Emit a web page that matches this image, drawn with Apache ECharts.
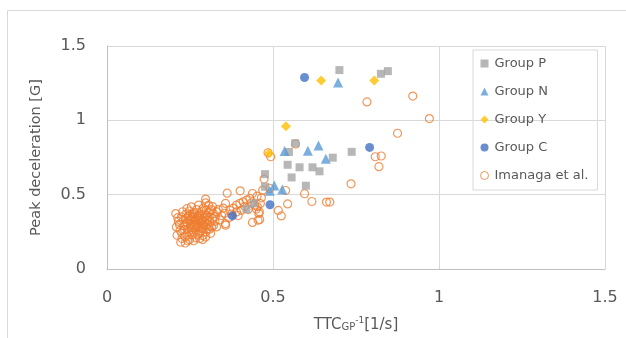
<!DOCTYPE html>
<html>
<head>
<meta charset="utf-8">
<script src="https://cdn.jsdelivr.net/npm/echarts@6/dist/echarts.min.js"></script>
<style>
  html, body { margin: 0; padding: 0; background: #fff; }
  #chart { width: 626px; height: 338px; }
</style>
</head>
<body>
<div id="chart"></div>
<script>
// values: [TTC^-1, peak deceleration]
const groupP = [
  [0.700, 1.338], [0.825, 1.313], [0.846, 1.331], [0.567, 0.846], [0.548, 0.787],
  [0.680, 0.749], [0.737, 0.788], [0.544, 0.701], [0.580, 0.684], [0.619, 0.684],
  [0.640, 0.657], [0.556, 0.616], [0.599, 0.560], [0.476, 0.638], [0.476, 0.553],
  [0.420, 0.403], [0.442, 0.441]
];
const groupN = [
  [0.696, 1.254], [0.535, 0.794], [0.605, 0.796], [0.637, 0.830], [0.659, 0.742],
  [0.504, 0.562], [0.528, 0.535], [0.490, 0.526]
];
const groupY = [
  [0.645, 1.268], [0.539, 0.960], [0.488, 0.778], [0.805, 1.268]
];
const groupC = [
  [0.595, 1.288], [0.491, 0.432], [0.378, 0.357], [0.791, 0.818]
];
const imanaga = [
  // outer points
  [0.783, 1.124], [0.921, 1.163], [0.971, 1.012], [0.875, 0.913], [0.808, 0.755],
  [0.826, 0.760], [0.819, 0.688], [0.735, 0.573], [0.671, 0.450], [0.568, 0.841],
  [0.485, 0.782], [0.493, 0.755], [0.473, 0.605], [0.490, 0.542], [0.469, 0.531],
  [0.538, 0.528], [0.595, 0.506], [0.617, 0.454], [0.661, 0.450], [0.544, 0.438],
  [0.516, 0.394], [0.525, 0.357],
  // tail of the cluster
  [0.362, 0.510], [0.401, 0.526], [0.438, 0.508], [0.465, 0.479], [0.452, 0.490],
  [0.420, 0.463], [0.410, 0.452], [0.400, 0.441], [0.390, 0.430], [0.430, 0.475],
  [0.445, 0.430], [0.453, 0.418], [0.462, 0.440], [0.450, 0.403], [0.459, 0.384],
  [0.457, 0.374], [0.460, 0.333], [0.438, 0.313], [0.455, 0.328], [0.390, 0.384],
  [0.380, 0.410], [0.370, 0.395], [0.357, 0.441], [0.297, 0.470], [0.297, 0.445],
  [0.331, 0.384], [0.326, 0.351], [0.357, 0.295], [0.321, 0.293], [0.309, 0.268],
  [0.345, 0.360], [0.355, 0.375], [0.367, 0.345], [0.357, 0.306], [0.315, 0.283],
  [0.330, 0.283], [0.340, 0.330], [0.335, 0.400], [0.350, 0.410], [0.415, 0.420],
  [0.425, 0.400], [0.405, 0.395], [0.435, 0.445], [0.395, 0.360], [0.375, 0.370],
  [0.318, 0.420], [0.310, 0.390], [0.300, 0.360],
  // dense core
  [0.207, 0.373], [0.209, 0.283], [0.211, 0.227], [0.222, 0.180], [0.236, 0.175],
  [0.249, 0.198], [0.288, 0.198], [0.224, 0.351], [0.241, 0.407], [0.254, 0.418],
  [0.276, 0.430], [0.299, 0.396], [0.215, 0.320], [0.218, 0.300], [0.220, 0.260],
  [0.225, 0.240], [0.230, 0.330], [0.232, 0.290], [0.235, 0.215], [0.238, 0.370],
  [0.240, 0.340], [0.242, 0.310], [0.244, 0.270], [0.246, 0.250], [0.248, 0.390],
  [0.250, 0.360], [0.252, 0.330], [0.254, 0.300], [0.256, 0.230], [0.258, 0.280],
  [0.260, 0.345], [0.262, 0.380], [0.264, 0.315], [0.266, 0.260], [0.268, 0.210],
  [0.270, 0.400], [0.272, 0.355], [0.274, 0.325], [0.276, 0.290], [0.278, 0.240],
  [0.280, 0.370], [0.282, 0.340], [0.284, 0.305], [0.286, 0.270], [0.288, 0.225],
  [0.290, 0.410], [0.292, 0.350], [0.294, 0.320], [0.296, 0.290], [0.298, 0.250],
  [0.300, 0.330], [0.302, 0.300], [0.305, 0.380], [0.308, 0.350], [0.310, 0.320],
  [0.312, 0.240], [0.315, 0.400], [0.318, 0.340], [0.228, 0.385], [0.233, 0.265],
  [0.237, 0.300], [0.245, 0.355], [0.251, 0.285], [0.257, 0.370], [0.259, 0.250],
  [0.263, 0.295], [0.267, 0.335], [0.271, 0.280], [0.273, 0.230], [0.277, 0.360],
  [0.281, 0.315], [0.285, 0.390], [0.289, 0.280], [0.293, 0.370], [0.297, 0.215],
  [0.247, 0.325], [0.255, 0.350], [0.265, 0.370], [0.275, 0.340], [0.283, 0.255],
  [0.213, 0.345], [0.226, 0.205], [0.243, 0.190], [0.261, 0.190], [0.279, 0.205],
  [0.269, 0.300], [0.287, 0.330], [0.240, 0.230], [0.253, 0.265], [0.291, 0.300],
  [0.303, 0.270], [0.306, 0.430], [0.320, 0.375], [0.325, 0.320]
];
const seriesNames = ["Group P", "Group N", "Group Y", "Group C", "Imanaga et al."];

const FONT = "'DejaVu Sans', Verdana, sans-serif";
const TEXT = "#595959";
const ORANGE = "#ED7D31";

const chart = echarts.init(document.getElementById("chart"), null, { renderer: "canvas" });

const option = {
  animation: false,
  textStyle: { fontFamily: FONT },
  grid: { left: 107, right: 21, top: 46, bottom: 69, containLabel: false },
  // chart-area frame (only the left and top edges show in the picture)
  graphic: [
    { type: "line", shape: { x1: 7.5, y1: 10.5, x2: 626, y2: 10.5 }, style: { stroke: "#d9d9d9", lineWidth: 1 } },
    { type: "line", shape: { x1: 7.5, y1: 10.5, x2: 7.5, y2: 338 }, style: { stroke: "#d9d9d9", lineWidth: 1 } }
  ],
  legend: {
    data: seriesNames.map((n) =>
      n === "Imanaga et al."
        ? { name: n, icon: "circle", itemStyle: { color: "rgba(255,255,255,0)", borderColor: ORANGE, borderWidth: 1 } }
        : { name: n }
    ),
    orient: "vertical",
    left: 473,
    top: 50,
    padding: [7, 9, 8, 7],
    itemGap: 15,
    itemWidth: 8,
    itemHeight: 8,
    borderColor: "#d9d9d9",
    borderWidth: 1,
    textStyle: { fontFamily: FONT, fontSize: 13, color: TEXT, padding: [0, 0, 0, 1] }
  },
  xAxis: {
    type: "value",
    min: 0,
    max: 1.5,
    interval: 0.5,
    name: "{a|TTC}{sub|GP}{sup|-1}{a|[1/s]}",
    nameLocation: "middle",
    nameGap: 44,
    nameTextStyle: {
      rich: {
        a: { fontFamily: FONT, fontSize: 15, color: TEXT, lineHeight: 20, verticalAlign: "bottom" },
        sub: { fontFamily: FONT, fontSize: 10, color: TEXT, lineHeight: 20, verticalAlign: "bottom", padding: [0, 0, 1, 0] },
        sup: { fontFamily: FONT, fontSize: 9, color: TEXT, lineHeight: 20, verticalAlign: "top", padding: [3, 0, 0, 0] }
      }
    },
    axisLine: { show: true, lineStyle: { color: "#bfbfbf", width: 1 } },
    axisTick: { show: false },
    axisLabel: { color: TEXT, fontSize: 16, margin: 21, fontFamily: FONT },
    splitLine: { show: true, lineStyle: { color: "#d9d9d9", width: 1 } }
  },
  yAxis: {
    type: "value",
    min: 0,
    max: 1.5,
    interval: 0.5,
    name: "Peak deceleration [G]",
    nameLocation: "middle",
    nameGap: 63,
    nameTextStyle: { color: TEXT, fontSize: 14.5, fontFamily: FONT },
    axisLine: { show: true, lineStyle: { color: "#bfbfbf", width: 1 } },
    axisTick: { show: false },
    axisLabel: { color: TEXT, fontSize: 16, margin: 21, fontFamily: FONT },
    splitLine: { show: true, lineStyle: { color: "#d9d9d9", width: 1 } }
  },
  series: [
    {
      name: "Imanaga et al.",
      type: "scatter",
      data: imanaga,
      symbol: "circle",
      symbolSize: 8,
      itemStyle: { color: "rgba(255,255,255,0)", borderColor: ORANGE, borderWidth: 1.2 },
      z: 1
    },
    {
      name: "Group P",
      type: "scatter",
      data: groupP,
      symbol: "rect",
      symbolSize: 8,
      itemStyle: { color: "#A5A5A5" },
      z: 2
    },
    {
      name: "Group N",
      type: "scatter",
      data: groupN,
      symbol: "triangle",
      symbolSize: 10,
      itemStyle: { color: "#5B9BD5" },
      z: 3
    },
    {
      name: "Group Y",
      type: "scatter",
      data: groupY,
      symbol: "diamond",
      symbolSize: 10,
      itemStyle: { color: "#FFC000" },
      z: 4
    },
    {
      name: "Group C",
      type: "scatter",
      data: groupC,
      symbol: "circle",
      symbolSize: 9,
      itemStyle: { color: "#4472C4" },
      z: 5
    }
  ]
};

chart.setOption(option);
</script>
</body>
</html>
